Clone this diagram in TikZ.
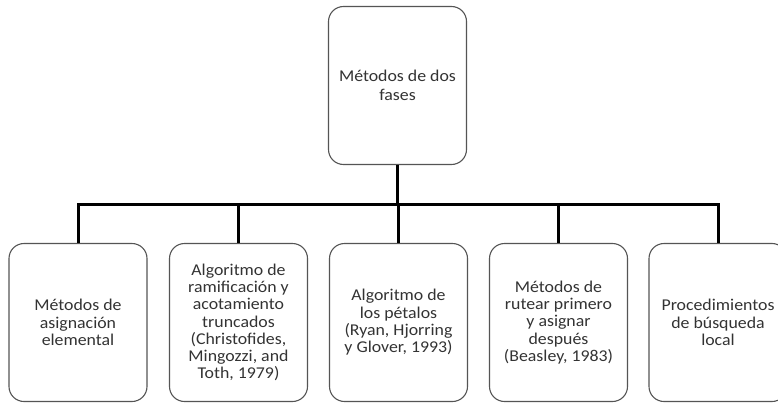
\documentclass[tikz,border=0pt]{standalone}
\usepackage{fontspec}
\setmainfont{Carlito}[FakeStretch=1.08]
\definecolor{txtgray}{HTML}{333333}
\definecolor{boxgray}{HTML}{555555}
\tikzset{
  box/.style={draw=boxgray, line width=1.1pt, rounded corners=15pt, fill=white,
    minimum width=138pt, minimum height=158pt, align=center, text=txtgray,
    inner sep=2pt, font=\fontsize{16.5}{17.3}\selectfont},
  conn/.style={draw=black, line width=3pt}
}
\begin{document}
\begin{tikzpicture}[x=1pt,y=-1pt]
\useasboundingbox (0,0) rectangle (778,404);
\clip (0,0) rectangle (778,404);
\fill[white] (0,0) rectangle (778,404);
\coordinate (bar) at (0,204);
\node[box, font=\fontsize{16.5}{18.5}\selectfont] (top) at (397.5,85.5) {Métodos de dos\\fases};
\node[box] (b1) at (78,322.5) {Métodos de\\asignación\\elemental};
\node[box] (b2) at (238.5,322.5) {Algoritmo de\\ramificación y\\acotamiento\\truncados\\(Christofides,\\Mingozzi, and\\Toth, 1979)};
\node[box] (b3) at (398.5,322.5) {Algoritmo de\\los pétalos\\(Ryan, Hjorring\\y Glover, 1993)};
\node[box] (b4) at (558.5,322.5) {Métodos de\\rutear primero\\y asignar\\después\\(Beasley, 1983)};
\node[box] (b5) at (718,322.5) {Procedimientos\\de búsqueda\\local};
\draw[conn] (top.south) -- (top.south |- bar);
\draw[conn] (b1.north) |- (b5.north |- bar) -- (b5.north);
\draw[conn] (b2.north) -- (b2.north |- bar);
\draw[conn] (b3.north) -- (b3.north |- bar);
\draw[conn] (b4.north) -- (b4.north |- bar);
\end{tikzpicture}
\end{document}
